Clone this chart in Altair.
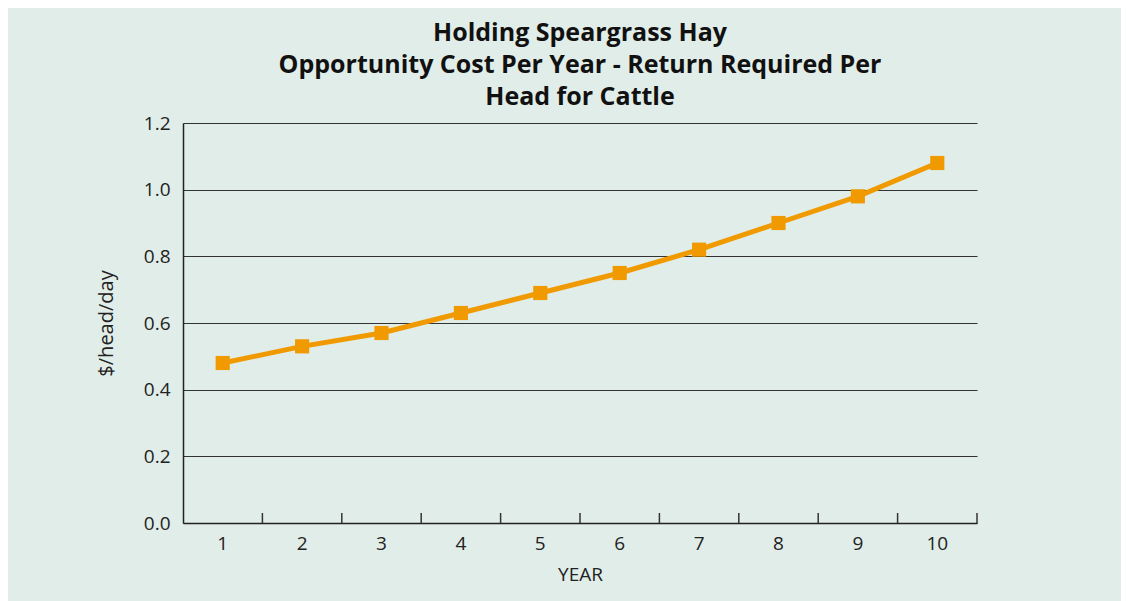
import altair as alt
import pandas as pd

years = [1, 2, 3, 4, 5, 6, 7, 8, 9, 10]
cost = [0.48, 0.53, 0.57, 0.63, 0.69, 0.75, 0.82, 0.90, 0.98, 1.08]
title_lines = ["Holding Speargrass Hay",
               "Opportunity Cost Per Year - Return Required Per",
               "Head for Cattle"]

df = pd.DataFrame({"year": years, "cost": cost})

W, H = 794, 400
FONT = "Open Sans"
ORANGE = "#f09a00"

x = alt.X("year:O", title="YEAR",
          scale=alt.Scale(paddingInner=0, paddingOuter=0),
          axis=alt.Axis(labelAngle=0))

y = alt.Y("cost:Q", title="$/head/day",
          scale=alt.Scale(domain=[0, 1.2], nice=False),
          axis=alt.Axis(values=[0, 0.2, 0.4, 0.6, 0.8, 1.0, 1.2], format=".1f"))

line = alt.Chart(df).mark_line(color=ORANGE, strokeWidth=5).encode(x=x, y=y)
pts = alt.Chart(df).mark_square(color=ORANGE, size=200, opacity=1).encode(x=x, y=y)
ticks = alt.Chart(df).mark_rule(color="#333", strokeWidth=1.5).encode(
    x=alt.X("year:O", bandPosition=1, title="YEAR",
            scale=alt.Scale(paddingInner=0, paddingOuter=0),
            axis=alt.Axis(labelAngle=0)),
    y=alt.value(H - 10), y2=alt.value(H))

chart = alt.layer(line, pts, ticks).properties(
    width=W, height=H,
    title=alt.TitleParams(title_lines, anchor="middle", fontSize=25,
                          font=FONT, fontWeight="bold", lineHeight=32,
                          color="#111", offset=4),
    autosize=alt.AutoSizeParams(type="none"),
    padding={"left": 175, "top": 115, "right": 144, "bottom": 78},
).configure(
    background="#e1ede8", font=FONT
).configure_view(stroke=None).configure_axis(
    labelFont=FONT, titleFont=FONT, labelFontSize=19, titleFontSize=19,
    titleFontWeight="normal", labelColor="#222", titleColor="#222",
    domainColor="#222", domainWidth=1.5, ticks=False
).configure_axisX(
    labelPadding=11, titlePadding=12, grid=False
).configure_axisY(
    labelPadding=13, titlePadding=27, grid=True, gridColor="#333",
    gridWidth=1.2, titleFontSize=20
)

chart.save("out.html", embed_options={"renderer": "svg", "actions": False})
